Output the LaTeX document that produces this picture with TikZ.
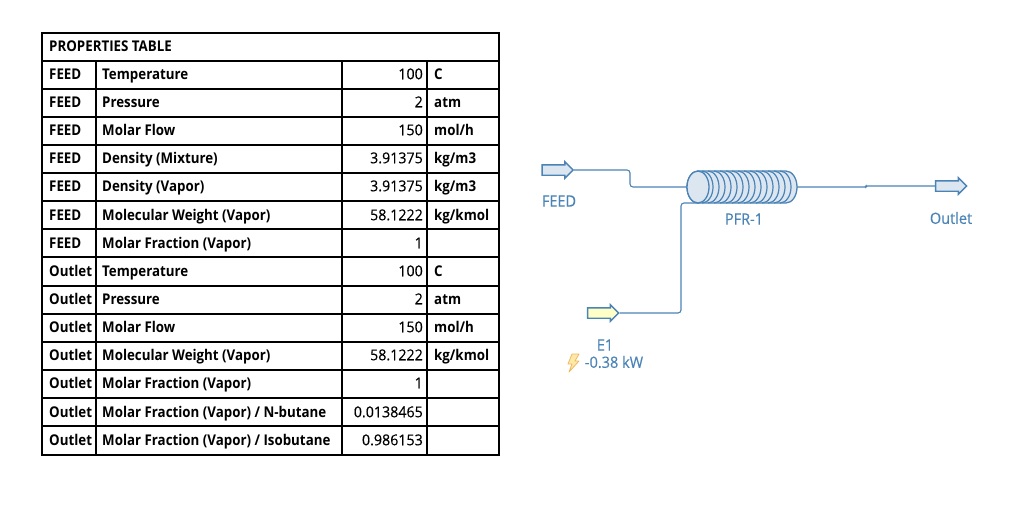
\documentclass[tikz,border=0pt]{standalone}
\usepackage{fontspec}
\setmainfont{Open Sans}
\newfontfamily\tablefont[FakeStretch=0.9]{Open Sans}
\newfontfamily\valuefont[FakeStretch=0.95,FakeBold=0.3]{Open Sans}
\newfontfamily\flowfont[FakeStretch=0.93,FakeBold=0.2]{Open Sans}
\usetikzlibrary{shapes.arrows}
\definecolor{pfrblue}{HTML}{4A83B5}
\definecolor{pfrfill}{HTML}{DCE6F1}
\definecolor{energyfill}{HTML}{FFFFC8}
\definecolor{boltfill}{HTML}{FFE9A8}
\definecolor{boltline}{HTML}{EDB95E}
\tikzset{
  tabline/.style={line width=1.1pt,black},
  tabtext/.style={font=\tablefont\fontsize{14.8}{16}\selectfont\bfseries,inner sep=0pt,anchor=west,black,text height=10.5pt,text depth=3pt,yshift=-1.5pt},
  tabval/.style={font=\valuefont\fontsize{15}{16}\selectfont,inner sep=0pt,anchor=east,black,text height=10.5pt,text depth=3pt,yshift=-1.5pt},
  streamline/.style={line width=1.1pt,pfrblue,rounded corners=3pt},
  streamarrow/.style={single arrow,draw=pfrblue,line width=1.4pt,minimum height=31pt,
    single arrow head extend=3pt,inner sep=0pt,single arrow head indent=0pt},
  flowlabel/.style={font=\flowfont\fontsize{15.6}{18}\selectfont,text=pfrblue,inner sep=0pt}
}
\begin{document}
\begin{tikzpicture}[x=1pt,y=-1pt]
\useasboundingbox (0,0) rectangle (1032,517);
% table
\draw[tabline] (42,33) rectangle (499,455);
\foreach \y in {61,89,117,145,173,201,229,257,286,314,342,370,398,426}
  \draw[tabline] (42,\y) -- (499,\y);
\foreach \x in {96,342,427}
  \draw[tabline] (\x,61) -- (\x,455);
\node[tabtext] (title) at (49,46) {PROPERTIES TABLE};
\foreach \y/\src/\prop/\val/\unit in {
    74/FEED/{Temperature}/100/C,
    102/FEED/{Pressure}/2/atm,
    130/FEED/{Molar Flow}/150/{mol/h},
    158/FEED/{Density (Mixture)}/3.91375/{kg/m3},
    186/FEED/{Density (Vapor)}/3.91375/{kg/m3},
    215/FEED/{Molecular Weight (Vapor)}/58.1222/{kg/kmol},
    243/FEED/{Molar Fraction (Vapor)}/1/{},
    271/Outlet/{Temperature}/100/C,
    299/Outlet/{Pressure}/2/atm,
    327/Outlet/{Molar Flow}/150/{mol/h},
    355/Outlet/{Molecular Weight (Vapor)}/58.1222/{kg/kmol},
    383/Outlet/{Molar Fraction (Vapor)}/1/{},
    412/Outlet/{Molar Fraction (Vapor) / N-butane}/0.0138465/{},
    440/Outlet/{Molar Fraction (Vapor) / Isobutane}/0.986153/{}}{
  \node[tabtext] (src\y) at (49,\y) {\src};
  \node[tabtext] (prop\y) at (102,\y) {\prop};
  \node[tabval] (val\y) at (423,\y) {\val};
  \node[tabtext] (unit\y) at (434,\y) {\unit};
}
% flowsheet
\node[streamarrow,fill=pfrfill] (FEED) at (555,170) {\rule{0pt}{9pt}};
\node[streamarrow,fill=pfrfill] (Outlet) at (948.5,186) {\rule{0pt}{9pt}};
\node[streamarrow,fill=energyfill] (E1) at (600.5,313) {\rule{0pt}{9pt}};
\node[minimum width=110pt,minimum height=32pt,inner sep=0pt] (PFR) at (742,187) {};
\coordinate (PFRbottom) at (699,203);
\draw[streamline] (FEED.east) -- (630,170) -- (630,187) -- (PFR.west);
\draw[streamline,rounded corners=1pt] (PFR.east) -- (866,187) -- (866,186) -- (Outlet.west);
\draw[streamline] (E1.east) -- (681,313) -- (681,203) -- (PFRbottom);
\draw[line width=1.3pt,pfrblue,fill=pfrfill] (698,171) -- (786,171) arc (90:-90:11pt and 16pt) -- (698,203) arc (-90:-270:11pt and 16pt) -- cycle;
\foreach \i in {0,...,13}
  \draw[line width=1.2pt,pfrblue] (702+6*\i,171) arc (90:-90:11pt and 16pt);
\draw[line width=1.3pt,pfrblue,fill=pfrfill] (698,187) ellipse (11pt and 16pt);
\node[flowlabel] (FEEDlabel) at (559,201) {FEED};
\node[flowlabel] (PFRlabel) at (744,219) {PFR-1};
\node[flowlabel] (Outletlabel) at (951,218) {Outlet};
\node[flowlabel] (E1label) at (605,345) {E1};
\node[flowlabel] (E1duty) at (614,362) {-0.38 kW};
\draw[line width=.8pt,boltline,fill=boltfill,line join=round] (572,354) -- (579,354) -- (575,361) -- (579,361) -- (569,372) -- (572,364) -- (568,364) -- cycle;
\end{tikzpicture}
\end{document}
